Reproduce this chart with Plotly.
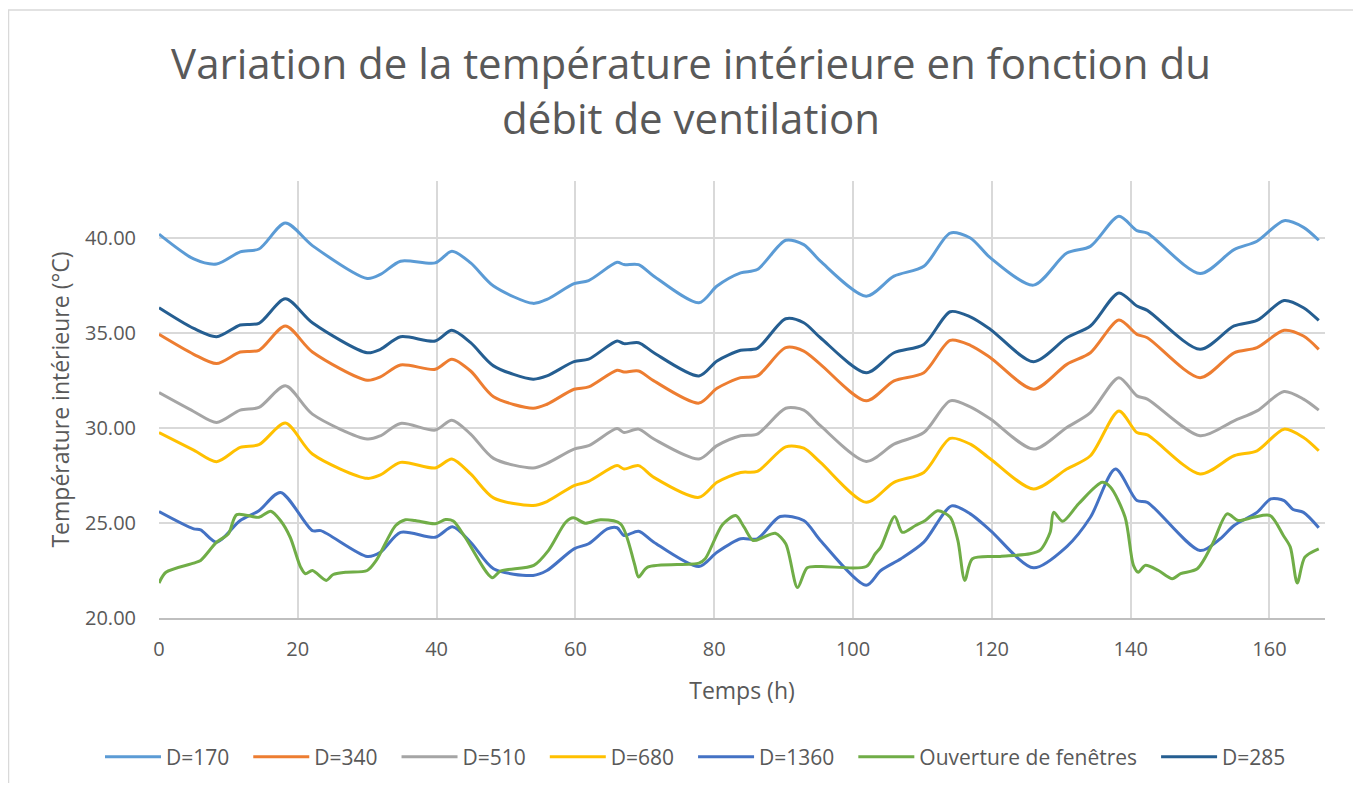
import plotly.graph_objects as go

# Time knots (h) shared by the five upper series
t_knots = [0, 5, 8.3, 11.7, 14.4, 18.2, 22.1, 30, 31.9, 34.8,
           39.8, 42.2, 44.9, 48.2, 53.9, 55.9, 59.8, 61.9, 66, 67,
           69.1, 71.3, 77.8, 80.4, 83.8, 86.2, 90.3, 92.9, 95.3, 101.9,
           105.9, 110.2, 114, 116.9, 119.8, 126, 130.8, 134.2, 138.3, 140.9,
           142.4, 150, 154.9, 158.2, 162.1, 164.9, 167.1]

d170 = [40.2, 38.9, 38.63, 39.27, 39.42, 40.79, 39.6, 37.87, 38.08, 38.78,
        38.69, 39.3, 38.69, 37.47, 36.56, 36.77, 37.6, 37.76, 38.72, 38.6,
        38.6, 37.99, 36.59, 37.47, 38.16, 38.34, 39.88, 39.65, 38.78, 36.94,
        37.99, 38.51, 40.26, 40.0, 38.95, 37.52, 39.21, 39.56, 41.14, 40.39,
        40.26, 38.13, 39.39, 39.83, 40.91, 40.56, 39.88]

d340 = [34.93, 33.88, 33.39, 34.0, 34.09, 35.37, 34.0, 32.51, 32.69, 33.32,
        33.09, 33.62, 33.0, 31.65, 31.04, 31.25, 32.04, 32.16, 33.04, 32.95,
        33.0, 32.48, 31.31, 32.09, 32.65, 32.74, 34.23, 34.05, 33.35, 31.43,
        32.48, 32.91, 34.61, 34.35, 33.7, 32.04, 33.35, 33.96, 35.68, 34.93,
        34.75, 32.65, 33.96, 34.23, 35.14, 34.84, 34.14]

d510 = [31.86, 30.87, 30.29, 30.94, 31.08, 32.22, 30.73, 29.42, 29.59, 30.24,
        29.89, 30.41, 29.68, 28.4, 27.9, 28.14, 28.89, 29.07, 29.97, 29.76,
        29.94, 29.42, 28.37, 29.07, 29.59, 29.68, 31.04, 30.94, 30.12, 28.24,
        29.15, 29.76, 31.43, 31.11, 30.47, 28.89, 30.03, 30.81, 32.65, 31.69,
        31.52, 29.59, 30.38, 30.9, 31.92, 31.52, 30.94]

d680 = [29.76, 28.84, 28.23, 28.98, 29.12, 30.26, 28.63, 27.35, 27.53, 28.19,
        27.9, 28.37, 27.58, 26.32, 25.92, 26.13, 26.97, 27.19, 28.02, 27.84,
        28.02, 27.4, 26.35, 27.14, 27.66, 27.72, 29.01, 28.94, 28.19, 26.09,
        27.14, 27.66, 29.45, 29.15, 28.37, 26.79, 27.84, 28.54, 30.9, 29.76,
        29.64, 27.58, 28.54, 28.8, 29.94, 29.5, 28.8]

d285 = [36.33, 35.24, 34.8, 35.42, 35.51, 36.8, 35.54, 33.96, 34.14, 34.8,
        34.58, 35.14, 34.49, 33.27, 32.57, 32.74, 33.49, 33.62, 34.58, 34.44,
        34.49, 33.96, 32.74, 33.53, 34.09, 34.19, 35.75, 35.54, 34.75, 32.91,
        33.96, 34.4, 36.12, 35.85, 35.19, 33.49, 34.75, 35.37, 37.11, 36.42,
        36.19, 34.14, 35.37, 35.66, 36.71, 36.33, 35.66]

t_1360 = [0, 5, 6, 8.3, 11.7, 14.4, 17.5, 22.1, 23.3, 30,
          31.9, 34.8, 39.8, 42.3, 44.9, 48.2, 53.9, 55.9, 59.8, 61.9,
          64.6, 66, 67, 69.1, 71.3, 77.8, 80.4, 83.8, 86.2, 89.5,
          92.9, 95.3, 101.9, 104, 106.9, 110.2, 114.2, 116.9, 119.8, 126,
          130.8, 134.2, 137.8, 140.9, 142.4, 150, 152.9, 154.9, 158.2, 160.2,
          162.1, 163.4, 164.9, 167.1]
d1360 = [25.6, 24.69, 24.64, 23.99, 25.13, 25.65, 26.61, 24.6, 24.6, 23.24,
         23.46, 24.51, 24.25, 24.8, 23.99, 22.59, 22.24, 22.5, 23.64, 23.91,
         24.69, 24.75, 24.34, 24.57, 23.99, 22.71, 23.46, 24.17, 24.17, 25.34,
         25.13, 24.08, 21.72, 22.5, 23.12, 23.99, 25.9, 25.48, 24.6, 22.64,
         23.76, 25.3, 27.84, 26.18, 26.09, 23.55, 24.17, 24.87, 25.56, 26.27,
         26.18, 25.71, 25.56, 24.75]

t_fen = [0, 1, 5, 6, 8.3, 10, 11.2, 14.4, 16.1, 17.5,
         18.9, 20.4, 21.1, 22.1, 24.1, 25.1, 26.9, 30, 31.3, 34.1,
         35.5, 36.9, 39.8, 41.3, 42.4, 44.1, 48, 49.2, 54, 56.1,
         58.6, 59.7, 61.4, 63.6, 66.5, 68.5, 69.1, 70.4, 77.8, 78.7,
         81.2, 83.1, 84.3, 85.6, 87.1, 88.8, 90.3, 92, 93.4, 95.3,
         101.9, 103.2, 104, 106, 107.1, 109, 110.4, 112.2, 114, 115.1,
         116.1, 117.2, 121.2, 125.5, 127, 128.4, 128.9, 130.2, 132.5, 135.9,
         137.1, 139.2, 140.4, 141.1, 142.1, 144, 146, 147.2, 149.6, 151.8,
         153.9, 155.5, 157.7, 160.1, 162, 163, 164, 165.1, 167.1]
d_fen = [21.84, 22.41, 22.89, 23.03, 23.99, 24.43, 25.44, 25.3, 25.62, 25.13,
         24.25, 22.68, 22.33, 22.5, 21.98, 22.29, 22.41, 22.5, 23.03, 24.87,
         25.17, 25.13, 24.96, 25.18, 25.1, 24.25, 22.12, 22.47, 22.77, 23.55,
         25.04, 25.27, 24.99, 25.17, 24.96, 22.86, 22.16, 22.68, 22.89, 23.12,
         24.92, 25.39, 24.78, 24.08, 24.25, 24.46, 23.91, 21.6, 22.64, 22.71,
         22.71, 23.38, 23.73, 25.34, 24.51, 24.87, 25.13, 25.65, 25.3, 24.08,
         21.98, 23.12, 23.24, 23.38, 23.59, 24.51, 25.56, 25.09, 26.01, 27.14,
         26.88, 25.3, 22.77, 22.41, 22.77, 22.5, 22.07, 22.33, 22.59, 23.91,
         25.48, 25.13, 25.3, 25.39, 24.34, 23.73, 21.84, 23.2, 23.64]

x_ticks = [0, 20, 40, 60, 80, 100, 120, 140, 160]
y_ticks = [20, 25, 30, 35, 40]

series = [
    ("D=170", t_knots, d170, "#5B9BD5"),
    ("D=340", t_knots, d340, "#ED7D31"),
    ("D=510", t_knots, d510, "#A5A5A5"),
    ("D=680", t_knots, d680, "#FFC000"),
    ("D=1360", t_1360, d1360, "#4472C4"),
    ("Ouverture de fenêtres", t_fen, d_fen, "#70AD47"),
    ("D=285", t_knots, d285, "#255E91"),
]

FONT = "Open Sans"
GREY = "#595959"
PAD = "\u2002\u2009"  # extra spacing between legend entries

fig = go.Figure()
for name, xs, ys, col in series:
    fig.add_trace(go.Scatter(
        x=xs, y=ys, name=name + PAD, mode="lines",
        line=dict(color=col, width=3, shape="spline", smoothing=0.8),
    ))

# the page body adds an 8px offset; page coordinates -> figure coordinates
OFF = 8
W, H = 1361 - OFF, 791 - 2 * OFF
L = 159 - OFF
T = 181 - OFF
R = W - (1325 - OFF)
B = H - (618 - OFF)
pw, ph = W - L - R, H - T - B

def px_x(p):
    return (p - OFF - L) / pw

def px_y(p):
    return (H - B - (p - OFF)) / ph

fig.update_layout(
    width=W, height=H,
    margin=dict(l=L, r=R, t=T, b=B, autoexpand=False),
    paper_bgcolor="white", plot_bgcolor="white",
    font=dict(family=FONT, color=GREY, size=20),
    title=dict(
        text="Variation de la température intérieure en fonction du<br>débit de ventilation",
        x=(691 - OFF) / W, xanchor="center", xref="container",
        y=1 - 71 / H, yanchor="top", yref="container",
        font=dict(family=FONT, size=42, color=GREY),
    ),
    xaxis=dict(
        range=[0, 168], tickvals=x_ticks, ticktext=[str(v) for v in x_ticks],
        showgrid=True, gridcolor="#D9D9D9", gridwidth=1.5,
        showline=True, linecolor="#BFBFBF", linewidth=1.5,
        zeroline=False, ticks="", ticklabelstandoff=12, automargin=False,
        tickfont=dict(size=20, color=GREY),
        title=dict(text="Temps (h)", font=dict(size=23, color=GREY), standoff=22),
    ),
    yaxis=dict(
        range=[20, 43], tickvals=y_ticks, tickformat=".2f",
        showgrid=True, gridcolor="#D9D9D9", gridwidth=1.5,
        showline=False, zeroline=False, ticks="", ticklabelstandoff=22, automargin=False,
        tickfont=dict(size=20, color=GREY),
        title=dict(text="Température intérieure (°C)", font=dict(size=23, color=GREY), standoff=8),
    ),
    legend=dict(
        orientation="h", x=px_x(100), xanchor="left",
        y=px_y(757), yanchor="middle",
        font=dict(size=21, color=GREY, family=FONT),
        bgcolor="rgba(0,0,0,0)", itemwidth=56,
    ),
    shapes=[dict(
        type="rect", xref="paper", yref="paper",
        x0=px_x(8.5), x1=px_x(1400), y0=px_y(820), y1=px_y(10),
        line=dict(color="#D9D9D9", width=1.5), fillcolor="rgba(0,0,0,0)", layer="below",
    )],
)

fig.write_html("out.html")
